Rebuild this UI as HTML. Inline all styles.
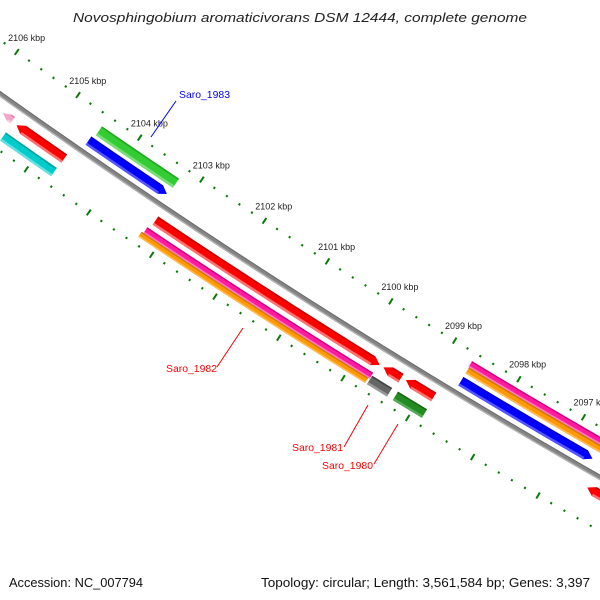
<!DOCTYPE html>
<html><head><meta charset="utf-8"><style>
html,body{margin:0;padding:0;background:#fff;}
svg{display:block;}
text{font-family:"Liberation Sans","DejaVu Sans",sans-serif;}
</style></head>
<body>
<svg id="chart" width="600" height="600" viewBox="0 0 600 600" xmlns="http://www.w3.org/2000/svg">
<rect x="0" y="0" width="600" height="600" fill="#fff"/>
<text x="300" y="22" text-anchor="middle" font-size="13" font-style="italic" fill="#222" textLength="454" lengthAdjust="spacingAndGlyphs">Novosphingobium aromaticivorans DSM 12444, complete genome</text>
<g id="ticks"></g>
<g id="backbone"></g>
<g id="features"></g>
<g>
<line x1="176" y1="101" x2="151" y2="137" stroke="#0000ff" stroke-width="1"/>
<text x="179" y="98" font-size="10.5" fill="#0000ff" textLength="51" lengthAdjust="spacingAndGlyphs">Saro_1983</text>
<line x1="217" y1="367" x2="243" y2="328" stroke="#ff0000" stroke-width="1"/>
<text x="166" y="372" font-size="10.5" fill="#ff0000" textLength="51" lengthAdjust="spacingAndGlyphs">Saro_1982</text>
<line x1="344" y1="447" x2="368" y2="405" stroke="#ff0000" stroke-width="1"/>
<text x="292" y="451" font-size="10.5" fill="#ff0000" textLength="51" lengthAdjust="spacingAndGlyphs">Saro_1981</text>
<line x1="374" y1="464" x2="398" y2="424" stroke="#ff0000" stroke-width="1"/>
<text x="322" y="469" font-size="10.5" fill="#ff0000" textLength="51" lengthAdjust="spacingAndGlyphs">Saro_1980</text>
</g>
<text x="9" y="587" font-size="13" fill="#111" textLength="134" lengthAdjust="spacingAndGlyphs">Accession: NC_007794</text>
<text x="590" y="587" text-anchor="end" font-size="13" fill="#111" textLength="329" lengthAdjust="spacingAndGlyphs">Topology: circular; Length: 3,561,584 bp; Genes: 3,397</text>
</svg>
<script>
// feature data (kbp positions)
const featNames = ["pink-arrow","red-gene-1","cyan-gene","green-gene","blue-gene-1","red-gene-saro1982","magenta-gene-1","orange-gene-1","red-gene-small","grey-gene-saro1981","red-gene-2","darkgreen-gene-saro1980","magenta-gene-2","orange-gene-2","blue-gene-2","red-gene-3"];
const featStart = [2105.52,2104.67,2104.68,2103.26,2103.28,2099.68,2099.70,2099.72,2099.35,2099.38,2098.85,2098.84,2096.30,2096.30,2096.62,2095.90];
const featEnd   = [2105.68,2105.44,2105.50,2104.50,2104.54,2103.21,2103.25,2103.28,2099.62,2099.69,2099.28,2099.29,2098.66,2098.65,2098.65,2096.49];
const featDir   = [1,1,0,0,-1,-1,0,0,1,0,1,0,0,0,-1,1];
const featColor = ["#f4a6cc","#ff0000","#00cccc","#33cc33","#0000ff","#ff0000","#ff1aa0","#ff9900","#ff0000","#666666","#ff0000","#228b22","#ff1aa0","#ff9900","#0000ff","#ff0000"];
const featLight = ["#f9cce0","#ff7070","#66e0e0","#77dd77","#5555ff","#ff7070","#ff77c4","#ffbb55","#ff7070","#999999","#ff7070","#55aa55","#ff77c4","#ffbb55","#5555ff","#ff7070"];
const featDark  = ["#e088b0","#c80000","#00a0a0","#22a822","#0000c8","#c80000","#cc0080","#d07800","#c80000","#444444","#c80000","#1a6a1a","#cc0080","#d07800","#0000c8","#c80000"];
const trackV    = [14,16,33,-26.5,-12.5,16,29.5,36,16,34,15,34,-32,-25,-12.5,15];
const trackW    = [8,10,10,11,10,10,7,6,10,10,10,10,7,7,10,10];
// tick data
const tickMin = 2095.8, tickMax = 2106.6, tickStep = 0.2;
const majorLabels = [2106,2105,2104,2103,2102,2101,2100,2099,2098,2097];

const CX=4222, CY=-5849, R=7290, PPK=75.4, P0=2101;
const TH0 = Math.atan2(299-CY, 303.5-CX);
function pt(p,v){const th=TH0+(p-P0)*PPK/R;const r=R+v;return [CX+r*Math.cos(th), CY+r*Math.sin(th)];}
const NS="http://www.w3.org/2000/svg";
function ps(a){return a.map(q=>q[0].toFixed(2)+","+q[1].toFixed(2)).join(" ");}
function arcPts(p1,p2,v,n){const o=[];for(let i=0;i<=n;i++){o.push(pt(p1+(p2-p1)*i/n,v));}return o;}

// ticks
const tg=document.getElementById("ticks");
const nT=Math.round((tickMax-tickMin)/tickStep);
for(let i=0;i<=nT;i++){
  const p=tickMin+i*tickStep;
  const major=Math.abs(p-Math.round(p))<1e-6;
  [-44,46.5].forEach(function(vc){
    const h=major?3.5:1.1;
    const a=pt(p,vc-h),b=pt(p,vc+h);
    const l=document.createElementNS(NS,"line");
    l.setAttribute("x1",a[0]);l.setAttribute("y1",a[1]);l.setAttribute("x2",b[0]);l.setAttribute("y2",b[1]);
    l.setAttribute("stroke","#0a7a0a");l.setAttribute("stroke-width","2");
    
    
    tg.appendChild(l);
  });
}
majorLabels.forEach(function(k){
  const c=pt(k,-61);
  const t=document.createElementNS(NS,"text");
  t.setAttribute("x",c[0]);t.setAttribute("y",c[1]+3);
  t.setAttribute("text-anchor","middle");t.setAttribute("font-size","9");t.setAttribute("fill","#222");
  t.textContent=k+" kbp";
  
  
  tg.appendChild(t);
});

// backbone
const bg=document.getElementById("backbone");
function band(g,p1,p2,v1,v2,fill,name){
  const pts=arcPts(p1,p2,v1,20).concat(arcPts(p2,p1,v2,20));
  const pg=document.createElementNS(NS,"polygon");
  pg.setAttribute("points",ps(pts));pg.setAttribute("fill",fill);
  
  
  g.appendChild(pg);
}
band(bg,2095.5,2107.5,-2.5,2.5,"#858585","backbone-line");
band(bg,2095.5,2107.5,1.2,2.6,"#b4b4b4","backbone-highlight");
band(bg,2095.5,2107.5,-2.6,-1.6,"#6a6a6a","backbone-shadow");

// features
const fg=document.getElementById("features");
const HEAD=0.105;
for(let i=0;i<featStart.length;i++){
  const g=document.createElementNS(NS,"g");
  
  
  fg.appendChild(g);
  const s=featStart[i],e=featEnd[i],vc=trackV[i],w=trackW[i];
  const v1=vc-w/2,v2=vc+w/2;
  let bs=s,be=e;
  if(featDir[i]<0) bs=Math.min(e,s+HEAD);
  if(featDir[i]>0) be=Math.max(s,e-HEAD);
  let pts;
  if(featDir[i]<0){
    pts=[pt(s,vc)].concat(arcPts(bs,e,v1,12)).concat(arcPts(e,bs,v2,12));
  }else if(featDir[i]>0){
    pts=arcPts(s,be,v1,12).concat([pt(e,vc)]).concat(arcPts(be,s,v2,12));
  }else{
    pts=arcPts(s,e,v1,12).concat(arcPts(e,s,v2,12));
  }
  const body=document.createElementNS(NS,"polygon");
  body.setAttribute("points",ps(pts));body.setAttribute("fill",featColor[i]);
  
  
  g.appendChild(body);
  const ls=Math.max(1.2,w*0.25);
  band(g,bs,be,v2-ls,v2,featLight[i],"feature-highlight");
  band(g,bs,be,v1,v1+Math.min(1.6,w*0.2),featDark[i],"feature-shadow");
}
</script>
</body></html>
